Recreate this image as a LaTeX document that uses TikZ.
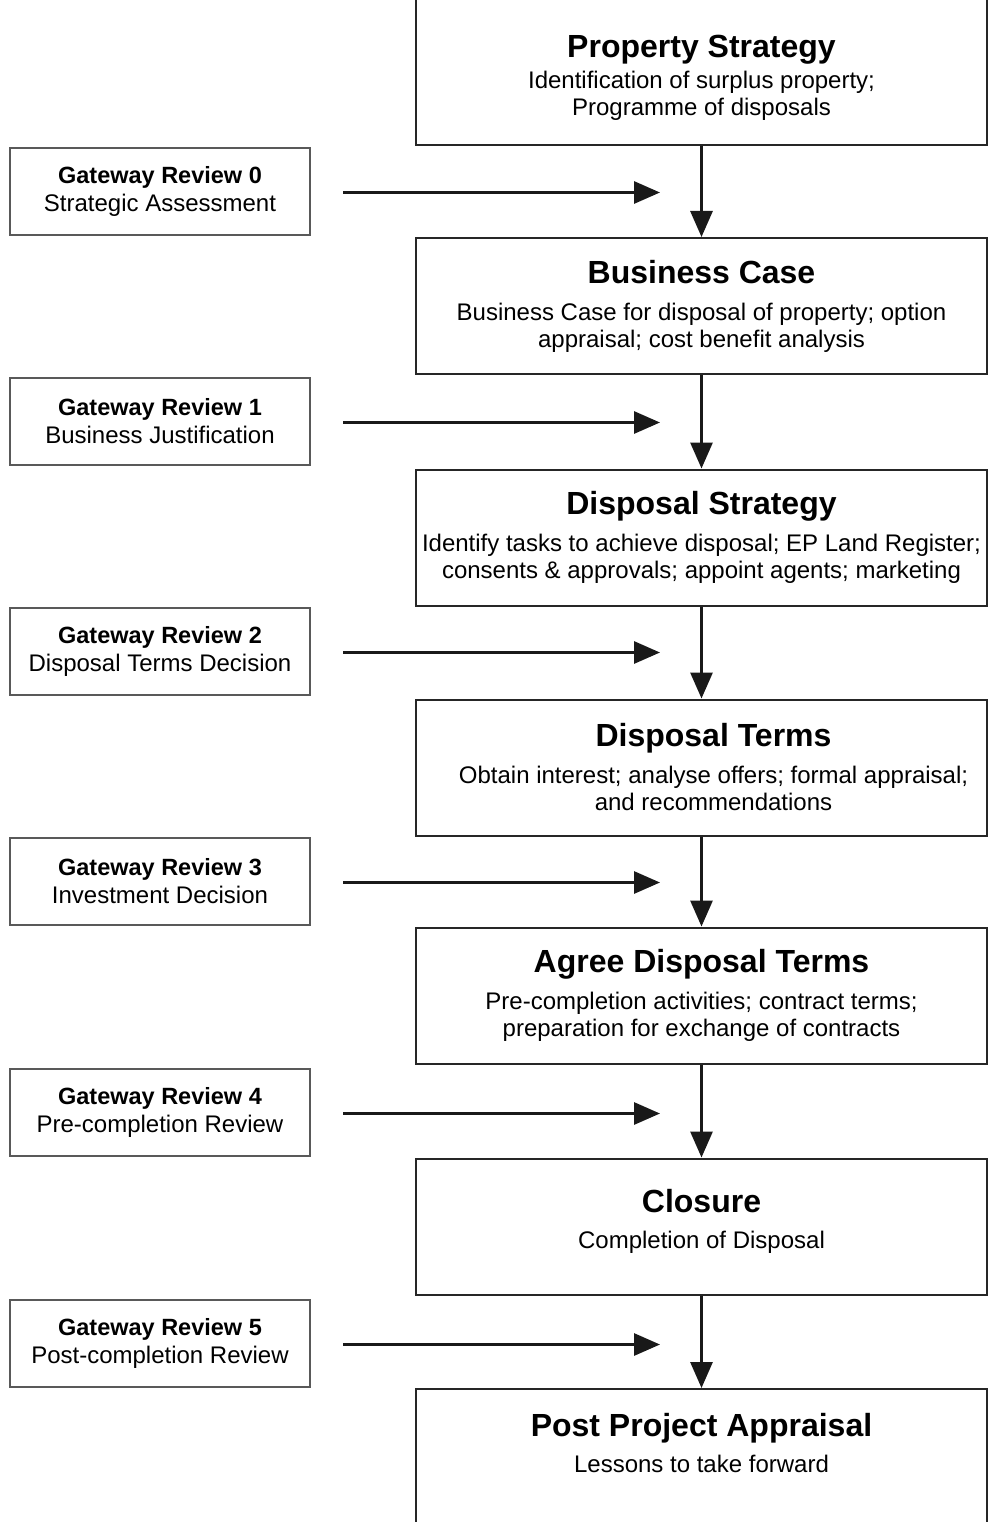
\documentclass[tikz,border=0pt]{standalone}
\usepackage{fontspec}
\setmainfont{Liberation Sans}
\usetikzlibrary{arrows.meta}
\newcommand{\stagetitle}[1]{{\fontsize{32}{36}\selectfont\bfseries #1}}
\begin{document}
\begin{tikzpicture}[x=1pt, y=-1pt, >={Triangle[length=26pt,width=22pt]},
  stagebox/.style={draw=black!85, line width=2pt, minimum width=571pt, minimum height=136pt,
    align=center, inner sep=0pt, font=\fontsize{24}{27}\selectfont},
  gatebox/.style={draw=black!65, line width=2.8pt, minimum width=300pt, minimum height=87pt,
    align=center, inner sep=0pt, font=\fontsize{24}{28}\selectfont},
  flow/.style={->, line width=3pt, black!90}]
\useasboundingbox (0,0) rectangle (988,1522);
\clip (0,0) rectangle (988,1522);
\fill[white] (0,0) rectangle (988,1522);

% stages
\node[stagebox, anchor=south, minimum height=0pt, inner ysep=25pt] (ps) at (701.5,146)
  {\rule{0pt}{100pt}\stagetitle{Property Strategy}\\[4pt]
   Identification of surplus property;\\ Programme of disposals};
\node[stagebox] (bc) at (701.5,306)
  {\stagetitle{Business Case}\\[10pt]
   Business Case for disposal of property; option\\ appraisal; cost benefit analysis};
\node[stagebox] (ds) at (701.5,537.5)
  {\stagetitle{Disposal Strategy}\\[10pt]
   Identify tasks to achieve disposal; EP Land Register;\\ consents \& approvals; appoint agents; marketing};
\node[stagebox] (dt) at (701.5,767.5)
  {\hspace*{24pt}\stagetitle{Disposal Terms}\\[10pt]
   \hspace*{24pt}Obtain interest; analyse offers; formal appraisal;\\ \hspace*{24pt}and recommendations};
\node[stagebox] (ad) at (701.5,995.5)
  {\stagetitle{Agree Disposal Terms}\\[10pt]
   Pre-completion activities; contract terms;\\ preparation for exchange of contracts};
\node[stagebox] (cl) at (701.5,1226.5)
  {\stagetitle{Closure}\\[9pt] Completion of Disposal\rule[-16pt]{0pt}{0pt}};
\node[stagebox, anchor=north, minimum height=0pt, inner ysep=24pt] (pp) at (701.5,1388)
  {\stagetitle{Post Project Appraisal}\\[9pt]
   Lessons to take forward\rule[-150pt]{0pt}{0pt}};

\draw[flow] (ps.south)--(bc.north);
\draw[flow] (bc.south)--(ds.north);
\draw[flow] (ds.south)--(dt.north);
\draw[flow] (dt.south)--(ad.north);
\draw[flow] (ad.south)--(cl.north);
\draw[flow] (cl.south)--(pp.north);

% gateway reviews
\foreach \g/\y/\txt in {0/191.5/Strategic Assessment, 1/421.5/Business Justification,
  2/651.5/Disposal Terms Decision, 3/881.5/Investment Decision,
  4/1112.5/Pre-completion Review, 5/1343.5/Post-completion Review}
{
  \node[gatebox] (g\g) at (160,\y) {{\fontsize{23.5}{28}\selectfont\bfseries Gateway Review \g}\\ \txt};
  \coordinate (h\g s) at (343,\y+1);
  \coordinate (h\g e) at (660,\y+1);
  \draw[flow] (h\g s)--(h\g e);
}
\end{tikzpicture}
\end{document}
